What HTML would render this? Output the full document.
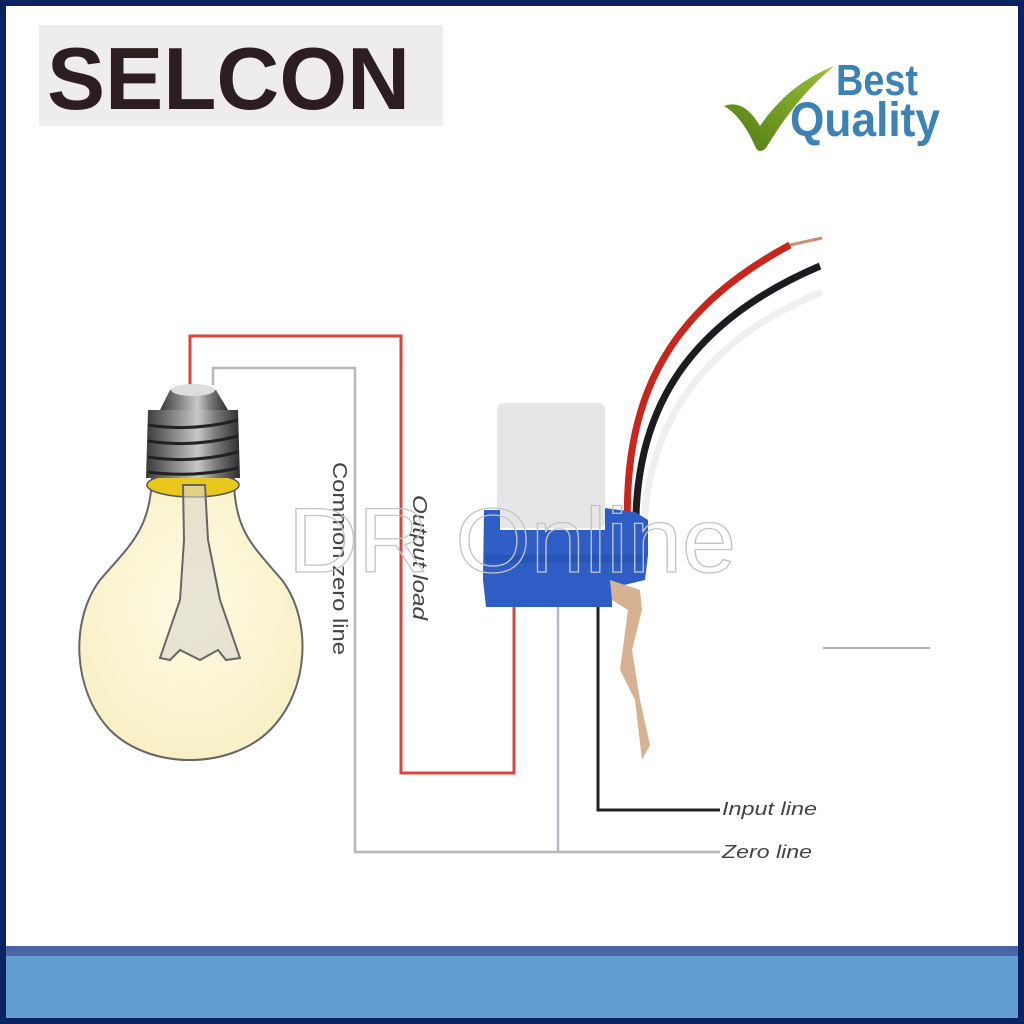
<!DOCTYPE html>
<html><head><style>
html,body{margin:0;padding:0;background:#fff;}
svg{display:block;}
</style></head><body>
<svg width="1024" height="1024" viewBox="0 0 1024 1024" xmlns="http://www.w3.org/2000/svg" font-family="Liberation Sans, sans-serif">
<defs>
<radialGradient id="glass" cx="0.5" cy="0.45" r="0.6">
<stop offset="0" stop-color="#fffbe4"/><stop offset="1" stop-color="#f8efc4"/></radialGradient>
<linearGradient id="metal" x1="0" x2="1">
<stop offset="0" stop-color="#3a3a3a"/><stop offset="0.55" stop-color="#c8c8c8"/><stop offset="0.75" stop-color="#777"/><stop offset="1" stop-color="#2e2e2e"/></linearGradient>
<linearGradient id="check" x1="0" x2="1" y1="1" y2="0">
<stop offset="0" stop-color="#4d7a12"/><stop offset="1" stop-color="#9cc03a"/></linearGradient>
</defs>
<rect width="1024" height="1024" fill="#0b2461"/>
<rect x="6" y="6" width="1012" height="940" fill="#fff"/>
<rect x="6" y="946" width="1012" height="10" fill="#4a64a8"/>
<rect x="6" y="956" width="1012" height="62" fill="#629dd0"/>

<!-- SELCON logo -->
<rect x="39" y="25" width="404" height="101" fill="#eeeced"/>
<text x="47" y="109" font-size="88" font-weight="bold" fill="#2c1e20" textLength="363" lengthAdjust="spacingAndGlyphs">SELCON</text>

<!-- Best Quality -->
<path d="M724 106 C740 100 752 112 760 126 C778 100 800 80 834 66 C808 88 788 112 766 148 C762 152 758 152 756 148 C748 130 738 114 724 106Z" fill="url(#check)"/>
<text x="836" y="95" font-size="44" font-weight="bold" fill="#3d82b4" textLength="82" lengthAdjust="spacingAndGlyphs">Best</text>
<text x="790" y="136" font-size="48" font-weight="bold" fill="#3d82b4" textLength="150" lengthAdjust="spacingAndGlyphs">Quality</text>

<!-- wires of diagram -->
<polyline points="190,385 190,336 401,336 401,773 514,773 514,605" fill="none" stroke="#d9463c" stroke-width="3"/>
<polyline points="213,385 213,368 355,368 355,852 720,852" fill="none" stroke="#b8b8c0" stroke-width="2.5"/>
<line x1="558" y1="605" x2="558" y2="852" stroke="#b8b8c0" stroke-width="2.5"/>
<polyline points="598,605 598,810 720,810" fill="none" stroke="#222" stroke-width="3"/>
<text x="722" y="815" font-size="18" font-style="italic" fill="#444" textLength="95" lengthAdjust="spacingAndGlyphs">Input line</text>
<text x="722" y="858" font-size="18" font-style="italic" fill="#444" textLength="90" lengthAdjust="spacingAndGlyphs">Zero line</text>
<line x1="823" y1="648" x2="930" y2="648" stroke="#999" stroke-width="1.5"/>

<text transform="translate(333,462) rotate(90)" font-size="20" fill="#444" textLength="193" lengthAdjust="spacingAndGlyphs">Common zero line</text>
<text transform="translate(413,495) rotate(90)" font-size="20" font-style="italic" fill="#444" textLength="125" lengthAdjust="spacingAndGlyphs">Output load</text>

<!-- bulb -->
<path d="M152 478 C150 530 130 545 100 580 C70 620 72 690 110 730 C150 770 230 770 270 730 C310 690 312 620 282 580 C252 545 234 530 234 478Z" fill="url(#glass)" stroke="#666" stroke-width="2"/>
<ellipse cx="193" cy="485" rx="46" ry="12" fill="#e8c81a" stroke="#555" stroke-width="1.5"/>
<path d="M148 410 L238 410 L240 478 L146 478Z" fill="url(#metal)"/>
<g stroke="#222" stroke-width="3" fill="none">
<path d="M148 425 Q193 432 238 420"/><path d="M148 441 Q193 448 238 436"/><path d="M148 457 Q193 464 238 452"/><path d="M148 472 Q193 478 238 468"/>
</g>
<path d="M160 410 L170 390 L216 390 L228 410Z" fill="url(#metal)"/>
<ellipse cx="193" cy="390" rx="22" ry="6" fill="#ddd"/>
<path d="M183 485 L205 485 L208 540 L220 600 L240 658 L226 660 L218 650 L200 660 L180 650 L170 660 L160 658 L180 600 L184 540Z" fill="#d8d6cc" fill-opacity="0.6" stroke="#666" stroke-width="2"/>

<!-- sensor wires -->
<path d="M628 545 C622 420 650 320 790 245" fill="none" stroke="#c8251c" stroke-width="7"/>
<path d="M790 245 L822 238" stroke="#c89070" stroke-width="3"/>
<path d="M636 545 C632 430 670 330 820 266" fill="none" stroke="#1b1b20" stroke-width="7"/>
<path d="M644 545 C642 440 690 345 822 292" fill="none" stroke="#efefef" stroke-width="7"/>
<!-- sensor -->
<rect x="497" y="403" width="108" height="125" rx="6" fill="#e6e6e8"/>
<path d="M484 510 L500 510 L500 530 L605 530 L605 508 L635 512 L648 520 L648 555 L645 580 L612 588 L612 607 L486 607 L483 580Z" fill="#2f5dc6"/>
<rect x="486" y="555" width="160" height="8" fill="#234fb0" opacity="0.6"/>
<path d="M610 580 L640 590 L642 610 L632 650 L640 700 L650 745 L642 760 L635 700 L620 670 L628 610 L612 600Z" fill="#d7b292"/>

<!-- watermark -->
<text x="288" y="572" font-size="92" fill="none" stroke="#c4c4c4" stroke-width="1.3" textLength="448" lengthAdjust="spacingAndGlyphs">DR Online</text>
</svg>
</body></html>
